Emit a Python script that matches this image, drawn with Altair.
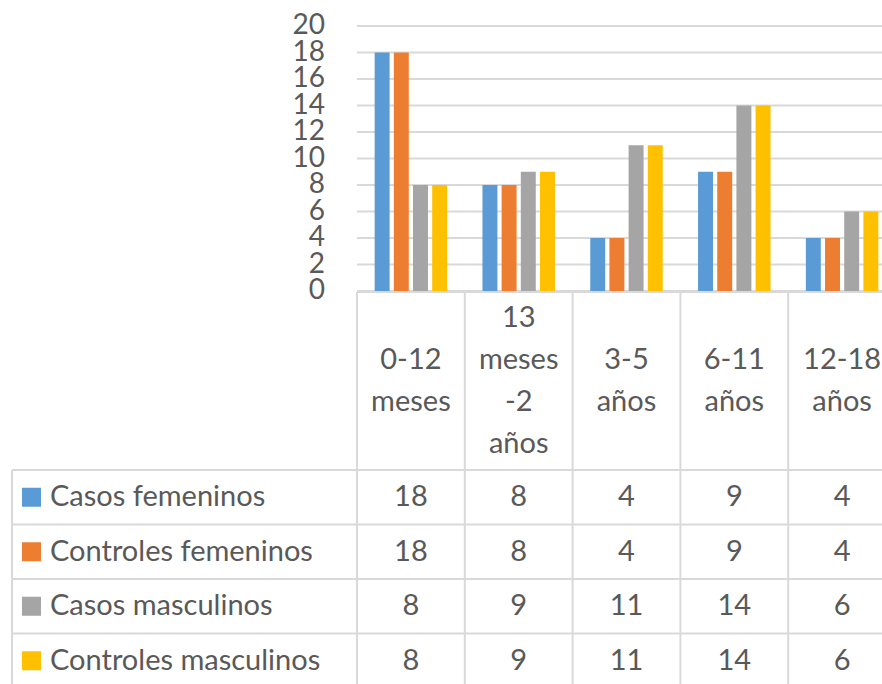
import altair as alt
import pandas as pd

# ---- data ----
categories = ["0-12\nmeses", "13\nmeses\n-2\naños", "3-5\naños", "6-11\naños", "12-18\naños"]
series = ["Casos femeninos", "Controles femeninos", "Casos masculinos", "Controles masculinos"]
casos_femeninos = [18, 8, 4, 9, 4]
controles_femeninos = [18, 8, 4, 9, 4]
casos_masculinos = [8, 9, 11, 14, 6]
controles_masculinos = [8, 9, 11, 14, 6]
y_ticks = [0, 2, 4, 6, 8, 10, 12, 14, 16, 18, 20]
colors = ["#5B9BD5", "#ED7D31", "#A5A5A5", "#FFC000"]

values_by_series = [casos_femeninos, controles_femeninos, casos_masculinos, controles_masculinos]
rows = []
for s, vals in zip(series, values_by_series):
    for c, v in zip(categories, vals):
        rows.append({"cat": c, "series": s, "value": v})
df = pd.DataFrame(rows)
cat_df = pd.DataFrame({"cat": categories})
ser_df = pd.DataFrame({"series": series})
tick_df = pd.DataFrame({"tick": y_ticks})

# ---- styling / layout ----
FONT = "Lato"
TXT = "#595959"
LINE = "#d9d9d9"
FS = 29
HEADER_CENTER = 381
LINE_H = 42

# header label lines, vertically centred in the header cell
hdr_rows = []
for c in categories:
    parts = c.split("\n")
    n = len(parts)
    for i, p in enumerate(parts):
        hdr_rows.append({"cat": c, "line": p,
                         "ly": HEADER_CENTER + (i - (n - 1) / 2) * LINE_H})
hdr_df = pd.DataFrame(hdr_rows)

xs = alt.Scale(domain=categories, range=[357, 896], paddingInner=0, paddingOuter=0)
xoff = alt.Scale(domain=series, paddingInner=0.22, paddingOuter=0.92)
yval = alt.Scale(domain=[0, 20], range=[291, 26])
yrow = alt.Scale(domain=series, range=[470, 688], paddingInner=0, paddingOuter=0)
cscale = alt.Scale(domain=series, range=colors)

grid = alt.Chart(tick_df).mark_rule(color=LINE, strokeWidth=2).encode(
    y=alt.Y("tick:Q", scale=yval, axis=None),
    x=alt.value(357), x2=alt.value(882))

ylabels = alt.Chart(tick_df).mark_text(
    align="right", baseline="middle", font=FONT, fontSize=28, color=TXT).encode(
    y=alt.Y("tick:Q", scale=yval, axis=None),
    x=alt.value(325), text=alt.Text("tick:Q"))

top_line = alt.Chart(cat_df).mark_rule(color=LINE, strokeWidth=2).encode(
    y=alt.value(292), x=alt.value(357), x2=alt.value(882))

vlines = alt.Chart(cat_df).mark_rule(color=LINE, strokeWidth=2).encode(
    x=alt.X("cat:N", scale=xs, sort=categories, bandPosition=0, axis=None),
    y=alt.value(292), y2=alt.value(684))

hlines = alt.Chart(ser_df).mark_rule(color=LINE, strokeWidth=2).encode(
    y=alt.Y("series:N", scale=yrow, sort=series, bandPosition=0, axis=None),
    x=alt.value(12), x2=alt.value(882))

left_border = alt.Chart(ser_df).mark_rule(color=LINE, strokeWidth=2).encode(
    x=alt.value(12), y=alt.value(470), y2=alt.value(684))

bars = alt.Chart(df).mark_bar().encode(
    x=alt.X("cat:N", scale=xs, sort=categories, axis=None),
    xOffset=alt.XOffset("series:N", scale=xoff, sort=series),
    y=alt.Y("value:Q", scale=yval, axis=None),
    color=alt.Color("series:N", scale=cscale, legend=None))

header = alt.Chart(hdr_df).mark_text(
    baseline="middle", align="center",
    font=FONT, fontSize=FS, color=TXT).encode(
    x=alt.X("cat:N", scale=xs, sort=categories, axis=None),
    y=alt.Y("ly:Q", scale=None, axis=None), text="line:N")

row_labels = alt.Chart(ser_df).mark_text(
    align="left", baseline="middle", font=FONT, fontSize=FS, color=TXT).encode(
    x=alt.value(50),
    y=alt.Y("series:N", scale=yrow, sort=series, axis=None),
    text="series:N")

swatches = alt.Chart(ser_df).mark_square(size=361, opacity=1).encode(
    x=alt.value(31.5),
    y=alt.Y("series:N", scale=yrow, sort=series, axis=None),
    color=alt.Color("series:N", scale=cscale, legend=None))

cells = alt.Chart(df).mark_text(
    align="center", baseline="middle", font=FONT, fontSize=FS, color=TXT).encode(
    x=alt.X("cat:N", scale=xs, sort=categories, axis=None),
    y=alt.Y("series:N", scale=yrow, sort=series, axis=None),
    text=alt.Text("value:Q"))

chart = alt.layer(
    grid, top_line, vlines, hlines, left_border, bars, ylabels,
    header, row_labels, swatches, cells
).resolve_scale(y="independent").properties(
    width=882, height=684,
    autosize=alt.AutoSizeParams(type="none"),
    padding=0, background="white"
).configure_view(stroke=None)

chart.save("out.html", embed_options={"renderer": "svg", "actions": False})
